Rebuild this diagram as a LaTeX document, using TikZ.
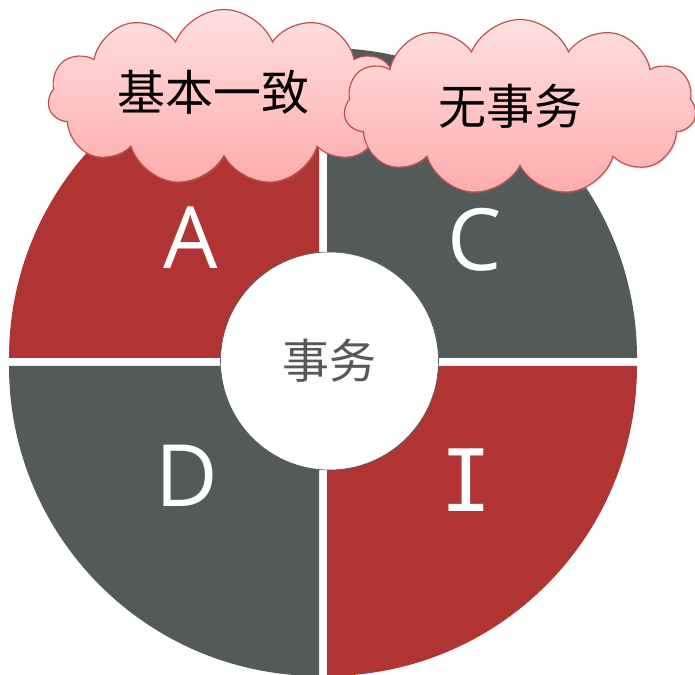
\documentclass[tikz,border=0pt]{standalone}
\usepackage{fontspec}
\setmainfont{Open Sans}
\newfontfamily\cjk{Noto Sans CJK SC}
\newfontfamily\monoletter{DejaVu Sans Mono}
\usetikzlibrary{shapes.symbols,shadows}

\definecolor{quadred}{RGB}{176,52,52}
\definecolor{quadgray}{RGB}{84,89,89}
\definecolor{cloudline}{RGB}{192,80,77}
\definecolor{cloudtop}{RGB}{255,224,224}
\definecolor{cloudbottom}{RGB}{255,172,172}
\definecolor{hubtext}{RGB}{85,89,89}

\tikzset{
  letter/.style={text=white, inner sep=0pt, font=\fontsize{86}{86}\selectfont},
  puff/.style={cloud, cloud puffs=11, cloud puff arc=135, aspect=2,
    draw=cloudline, line width=1.2pt, top color=cloudtop, bottom color=cloudbottom,
    inner sep=0pt, minimum width=352pt, minimum height=176pt,
    drop shadow={opacity=0.2, shadow xshift=1.5pt, shadow yshift=-1.5pt}},
  cloudtext/.style={inner sep=0pt, font=\cjk\fontsize{48}{48}\selectfont}
}

\begin{document}
\begin{tikzpicture}[x=1pt, y=1pt]
		\useasboundingbox (0,0) rectangle (695,674);
		
		% Quadrants
		\fill[quadred] (319,316) -- ++(-310,0) arc (180:90:310pt) -- cycle;
		\fill[quadgray] (327,316) -- ++(0,310) arc (90:0:310pt) -- cycle;
		\fill[quadgray] (319,308) -- ++(0,-310) arc (270:180:310pt) -- cycle;
		\fill[quadred] (327,308) -- ++(310,0) arc (0:-90:310pt) -- cycle;
		
		% Letters
		\node[letter] (a) at (191,436) {A};
		\node[letter] (c) at (475,434) {C};
		\node[letter] (d) at (187,198) {D};
		\node[letter, font=\monoletter\fontsize{86}{86}\selectfont] (i) at (466,194) {I};
		
		% Hub
		\node[circle, fill=white, draw=hubtext, line width=0.6pt, minimum size=218pt,
		  inner sep=0pt, text=hubtext, font=\cjk\fontsize{47}{47}\selectfont] (hub) at (329.5,313) {事务};
		
		% Clouds
		\node[puff] (cloud1) at (224,576.5) {};
		\node[cloudtext] (consistent) at (213,582) {基本一致};
		\node[puff] (cloud2) at (520,566.5) {};
		\node[cloudtext] (notx) at (510,568) {无事务};
		
	\end{tikzpicture}
\end{document}
